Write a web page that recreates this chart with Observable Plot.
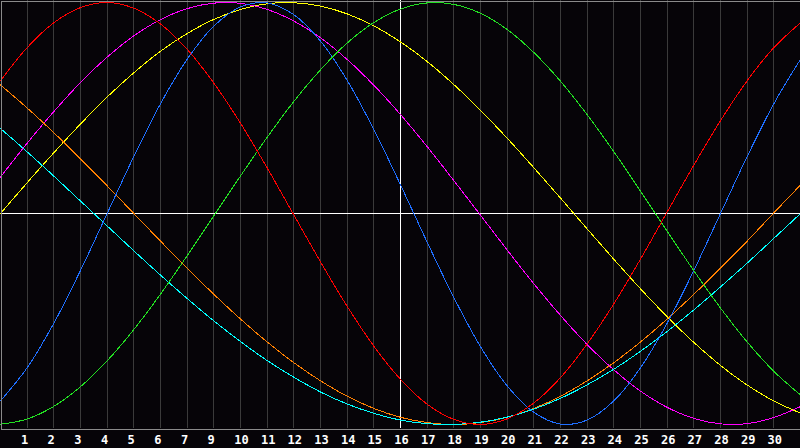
<!DOCTYPE html>
<html><head><meta charset="utf-8">
<script src="https://cdn.jsdelivr.net/npm/d3@7"></script>
<script src="https://cdn.jsdelivr.net/npm/@observablehq/plot@0.6"></script>
<style>html,body{margin:0;padding:0;background:#060408;overflow:hidden}</style>
</head><body><div id="chart"></div>
<script>
// day positions (gridline index) 0..30
const days = [0,1,2,3,4,5,6,7,8,9,10,11,12,13,14,15,16,17,18,19,20,21,22,23,24,25,26,27,28,29,30];
// gridlines and their labels (note: label 8 is absent in the reference)
const tickDays = [1,2,3,4,5,6,7,8,9,10,11,12,13,14,15,16,17,18,19,20,21,22,23,24,25,26,27,28,29];
const tickLabels = ["1","2","3","4","5","6","7","9","10","11","12","13","14","15","16","17","18","19","20","21","22","23","24","25","26","27","28","29","30"];
const todayDay = 15;

// series values (-1 .. 1)
const yellowVals = [0,0.146,0.288,0.424,0.552,0.667,0.769,0.853,0.920,0.967,0.994,0.999,0.983,0.946,0.889,0.813,0.720,0.611,0.489,0.357,0.217,0.073,-0.073,-0.217,-0.357,-0.489,-0.611,-0.720,-0.813,-0.889,-0.946];
const magentaVals = [0.173,0.333,0.483,0.621,0.741,0.842,0.919,0.971,0.997,0.996,0.967,0.912,0.833,0.730,0.608,0.469,0.317,0.156,-0.008,-0.173,-0.333,-0.483,-0.621,-0.741,-0.842,-0.919,-0.971,-0.997,-0.996,-0.967,-0.915];
const orangeVals = [0.609,0.500,0.383,0.259,0.131,0,-0.131,-0.259,-0.383,-0.500,-0.609,-0.707,-0.793,-0.866,-0.924,-0.966,-0.991,-1.000,-0.991,-0.966,-0.924,-0.866,-0.793,-0.707,-0.609,-0.500,-0.383,-0.259,-0.131,0.003,0.135];
const cyanVals = [0.403,0.292,0.177,0.059,-0.059,-0.177,-0.292,-0.403,-0.509,-0.607,-0.697,-0.776,-0.846,-0.903,-0.947,-0.979,-0.996,-1.000,-0.989,-0.965,-0.927,-0.876,-0.812,-0.738,-0.653,-0.559,-0.457,-0.348,-0.235,-0.118,0.000];
const blueVals = [-0.888,-0.731,-0.520,-0.270,0,0.270,0.520,0.731,0.888,0.979,0.998,0.942,0.817,0.631,0.398,0.136,-0.136,-0.398,-0.631,-0.817,-0.942,-0.998,-0.979,-0.888,-0.731,-0.520,-0.270,0,0.270,0.520,0.731];
const greenVals = [-0.999,-0.974,-0.914,-0.821,-0.698,-0.550,-0.382,-0.200,-0.011,0.178,0.361,0.531,0.681,0.808,0.905,0.969,0.998,0.991,0.949,0.872,0.763,0.627,0.468,0.293,0.106,-0.084,-0.271,-0.448,-0.609,-0.748,-0.860];
const redVals = [0.629,0.786,0.904,0.976,1.000,0.973,0.898,0.778,0.618,0.428,0.216,-0.007,-0.229,-0.440,-0.629,-0.786,-0.904,-0.976,-1.000,-0.973,-0.898,-0.778,-0.618,-0.428,-0.216,0.007,0.229,0.440,0.629,0.786,0.904];

const seriesList = [
  {vals: yellowVals, color: "#ffff00"},
  {vals: magentaVals, color: "#ff00ff"},
  {vals: orangeVals, color: "#ff8000"},
  {vals: cyanVals, color: "#00ffff"},
  {vals: blueVals, color: "#1f6fff"},
  {vals: greenVals, color: "#22e022"},
  {vals: redVals, color: "#ff0000"}
];

const labelFor = new Map(tickDays.map((d, i) => [d, tickLabels[i].length === 1 ? tickLabels[i] + "\u00a0" : tickLabels[i]]));

const marks = [
  Plot.ruleX(tickDays, {stroke: "#3a3a3a", shapeRendering: "crispEdges"}),
  Plot.ruleX([todayDay], {stroke: "#ffffff", strokeWidth: 1, shapeRendering: "crispEdges"}),
  Plot.ruleY([0], {stroke: "#ffffff", strokeWidth: 1, shapeRendering: "crispEdges"}),
  ...seriesList.map(s => Plot.line(days.map((d, i) => ({d, v: s.vals[i]})), {
    x: "d", y: "v", stroke: s.color, strokeWidth: 1, curve: "catmull-rom", shapeRendering: "crispEdges"
  })),
  Plot.frame({stroke: "#8a8a8a", insetTop: 0.5, insetLeft: 0.5, insetRight: 0.5, insetBottom: -0.5, shapeRendering: "crispEdges"}),
  Plot.axisX(tickDays, {tickSize: 0, tickPadding: 7, label: null, tickFormat: d => labelFor.get(d), fill: "#ffffff", fontWeight: "bold", fontSize: 12, fontFamily: "DejaVu Sans Mono", dx: 1})
];

const chart = Plot.plot({
  width: 800, height: 448,
  marginTop: 0, marginRight: 0, marginBottom: 20, marginLeft: 0,
  x: {domain: [0, 30], label: null},
  y: {domain: [-1.019, 1.0095], axis: null},
  style: {background: "#060408", color: "#ffffff", fontFamily: "DejaVu Sans Mono", fontSize: "12px", fontWeight: "bold"},
  marks
});
document.getElementById("chart").appendChild(chart);
</script>
</body></html>
